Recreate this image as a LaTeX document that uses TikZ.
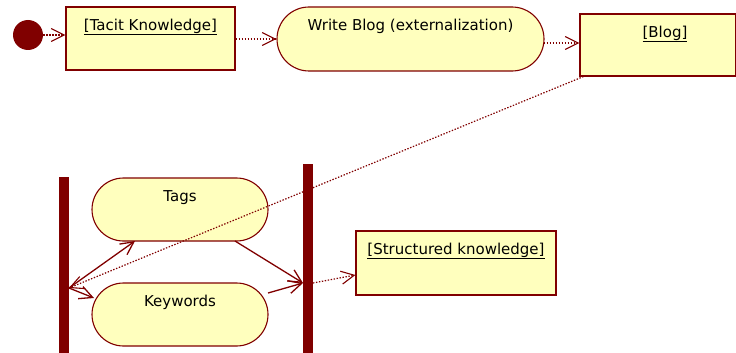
\documentclass[tikz,border=0pt]{standalone}
\usepackage{fontspec}
\setmainfont{DejaVu Sans}
\usetikzlibrary{arrows.meta,shapes.misc,calc}
\definecolor{dred}{HTML}{800000}
\definecolor{lyel}{HTML}{FFFFBE}
\tikzset{
  objbox/.style={draw=dred, line width=1.1pt, fill=lyel, rectangle, inner sep=0pt},
  actbox/.style={draw=dred, line width=1.1pt, fill=lyel, rounded rectangle, inner sep=0pt},
  bar/.style={fill=dred, draw=none, rectangle, inner sep=0pt},
  ttl/.style={font=\fontsize{15}{17}\selectfont, text=black},
  flow/.style={draw=dred, line width=1.2pt, dash pattern=on 1.4pt off 1.6pt, -{Straight Barb[length=13pt,width=13pt,line width=1.1pt,sep=0pt]}},
  ctrl/.style={draw=dred, line width=1.3pt, -{Straight Barb[length=13pt,width=13pt,line width=1.3pt]}},
}
\begin{document}
\begin{tikzpicture}[x=1pt,y=-1pt]
\useasboundingbox (0,0) rectangle (736,353);
\node[circle, fill=dred, minimum size=30pt, inner sep=0pt] (start) at (28,35) {};
\node[objbox, minimum width=169pt, minimum height=63pt] (tacit) at (150.5,38.5) {};
\node[ttl] at (150.5,27) {\underline{[Tacit Knowledge]}};
\node[actbox, minimum width=267pt, minimum height=64pt] (write) at (410.5,39) {};
\node[ttl] at (410.5,26) {Write Blog (externalization)};
\node[objbox, minimum width=156pt, minimum height=62pt] (blog) at (658,45) {};
\node[ttl] at (665,34) {\underline{[Blog]}};
\node[bar, minimum width=10pt, minimum height=176pt] (lbar) at (64,265) {};
\node[bar, minimum width=10pt, minimum height=190pt] (rbar) at (308,259) {};
\node[actbox, minimum width=176pt, minimum height=63pt] (tags) at (180,209.5) {};
\node[ttl] at (180,198) {Tags};
\node[actbox, minimum width=176pt, minimum height=63pt] (keywords) at (180,314.5) {};
\node[ttl] at (180,302) {Keywords};
\node[objbox, minimum width=200pt, minimum height=64pt] (struct) at (456,263) {};
\node[ttl] at (456,251) {\underline{[Structured knowledge]}};
\coordinate (jl) at (69,288);
\coordinate (jr) at (303,283);
\coordinate (jr2) at (313,283);
\draw[flow] (start.east) -- (tacit.west |- start.east);
\draw[flow] (tacit.east |- write.west) -- (write.west);
\draw[flow] ($(write.east |- blog.west)+(-1,-2)$) -- ($(blog.west)+(0,-2)$);
\draw[flow] ($(blog.south west)+(4,0)$) -- (jl);
\draw[ctrl] (jl) -- ($(tags.center)+(-45,31.5)$);
\draw[ctrl] (jl) -- ($(keywords.center)+(-86,-16.5)$);
\draw[ctrl] ($(tags.center)+(55,31.5)$) -- (jr);
\draw[ctrl] ($(keywords.center)+(88,-21.5)$) -- (jr);
\draw[flow] (jr2) -- ($(struct.west)+(0,12)$);
\end{tikzpicture}
\end{document}
